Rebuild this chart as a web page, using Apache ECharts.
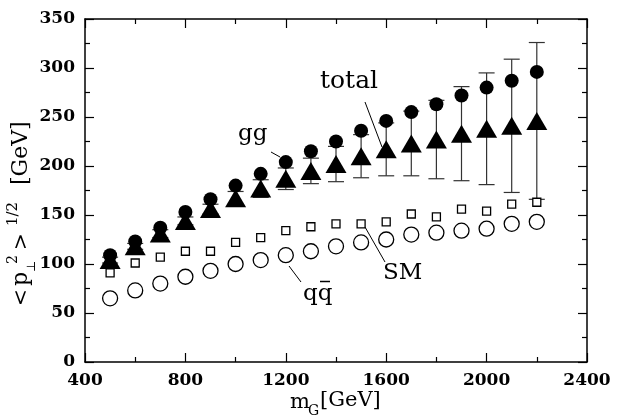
<!DOCTYPE html>
<html>
<head>
<meta charset="utf-8">
<script src="https://cdn.jsdelivr.net/npm/echarts@6/dist/echarts.min.js"></script>
<style>
  html, body { margin: 0; padding: 0; background: #fff; }
  #chart { width: 625px; height: 417px; }
</style>
</head>
<body>
<div id="chart"></div>
<script>
// masses of the graviton [GeV]
var mass = [500, 600, 700, 800, 900, 1000, 1100, 1200, 1300, 1400, 1500, 1600, 1700, 1800, 1900, 2000, 2100, 2200];
// <pT^2>^(1/2) values
var gg = [109, 123, 137, 153, 166, 180, 192, 204, 215, 225, 236, 246, 255, 263, 272, 280, 287, 296];
var total = [104, 118, 131, 144, 156, 167, 177, 187, 195, 202, 210, 217, 223, 227, 233, 238, 241, 246];
var totalErr = [3, 3, 4, 4, 5, 7, 9, 11, 13, 18, 22, 27, 33, 40, 48, 57, 68, 80];
var sm = [91, 101, 107, 113, 113, 122, 127, 134, 138, 141, 141, 143, 151, 148, 156, 154, 161, 163];
var qq = [65, 73, 80, 87, 93, 100, 104, 109, 113, 118, 122, 125, 130, 132, 134, 136, 141, 143];

var serif = '"DejaVu Serif", "Liberation Serif", serif';

function pairs(ys) {
  return mass.map(function (m, i) { return [m, ys[i]]; });
}

var errData = mass.map(function (m, i) {
  return [m, total[i] - totalErr[i], total[i] + totalErr[i]];
});

var chart = echarts.init(document.getElementById('chart'));

var axisCommon = {
  type: 'value',
  splitLine: { show: false },
  axisLine: { show: true, onZero: false, lineStyle: { color: '#000', width: 1.5 } },
  axisTick: { show: true, inside: true, length: 9, lineStyle: { color: '#000', width: 1.2 } },
  minorTick: { show: true, splitNumber: 2, length: 5, lineStyle: { color: '#000', width: 1.2 } }
};
var labelStyle = {
  color: '#000', fontFamily: serif, fontSize: 17, fontWeight: 'bold', margin: 10,
  formatter: function (v) { return String(v); }
};

chart.setOption({
  animation: false,
  backgroundColor: '#fff',
  grid: { left: 85, right: 38, top: 19, bottom: 55 },
  xAxis: [
    Object.assign({}, axisCommon, { min: 400, max: 2400, interval: 400, position: 'bottom', axisLabel: labelStyle }),
    Object.assign({}, axisCommon, { min: 400, max: 2400, interval: 400, position: 'top', axisLabel: { show: false } })
  ],
  yAxis: [
    Object.assign({}, axisCommon, { min: 0, max: 350, interval: 50, position: 'left', axisLabel: labelStyle }),
    Object.assign({}, axisCommon, { min: 0, max: 350, interval: 50, position: 'right', axisLabel: { show: false } })
  ],
  series: [
    {
      name: 'total err',
      type: 'custom',
      data: errData,
      z: 1,
      renderItem: function (params, api) {
        var x = api.value(0);
        var lo = api.coord([x, api.value(1)]);
        var hi = api.coord([x, api.value(2)]);
        var w = 8;
        var st = { stroke: '#333', lineWidth: 1.2 };
        return {
          type: 'group',
          children: [
            { type: 'line', shape: { x1: lo[0], y1: lo[1], x2: hi[0], y2: hi[1] }, style: st },
            { type: 'line', shape: { x1: lo[0] - w, y1: lo[1], x2: lo[0] + w, y2: lo[1] }, style: st },
            { type: 'line', shape: { x1: hi[0] - w, y1: hi[1], x2: hi[0] + w, y2: hi[1] }, style: st }
          ]
        };
      }
    },
    {
      name: 'SM',
      type: 'scatter',
      data: pairs(sm),
      symbol: 'rect',
      symbolSize: 8,
      z: 2,
      itemStyle: { color: '#fff', borderColor: '#000', borderWidth: 1.3, opacity: 1 }
    },
    {
      name: 'qqbar',
      type: 'scatter',
      data: pairs(qq),
      symbol: 'circle',
      symbolSize: 15,
      z: 2,
      itemStyle: { color: '#fff', borderColor: '#000', borderWidth: 1.3, opacity: 1 }
    },
    {
      name: 'gg',
      type: 'scatter',
      data: pairs(gg),
      symbol: 'circle',
      symbolSize: 14,
      z: 3,
      itemStyle: { color: '#000', opacity: 1 }
    },
    {
      name: 'total',
      type: 'scatter',
      data: pairs(total),
      symbol: 'triangle',
      symbolSize: [21, 18],
      z: 3,
      itemStyle: { color: '#000', opacity: 1 }
    }
  ],
  graphic: [
    // annotations
    { type: 'text', left: 320, top: 69, style: { text: 'total', font: '25px ' + serif, fill: '#000' } },
    { type: 'line', shape: { x1: 365, y1: 102, x2: 382, y2: 147 }, style: { stroke: '#000', lineWidth: 1 } },
    { type: 'text', left: 238, top: 123, style: { text: 'gg', font: '23px ' + serif, fill: '#000' } },
    { type: 'line', shape: { x1: 271, y1: 152, x2: 280, y2: 157 }, style: { stroke: '#000', lineWidth: 1 } },
    { type: 'text', left: 303, top: 283, style: { text: 'qq', font: '23px ' + serif, fill: '#000' } },
    { type: 'line', shape: { x1: 320, y1: 281.5, x2: 330, y2: 281.5 }, style: { stroke: '#000', lineWidth: 1.5 } },
    { type: 'line', shape: { x1: 289, y1: 266, x2: 301, y2: 282 }, style: { stroke: '#000', lineWidth: 1 } },
    { type: 'text', left: 383, top: 262, style: { text: 'SM', font: '23px ' + serif, fill: '#000' } },
    { type: 'line', shape: { x1: 365, y1: 227, x2: 385, y2: 262 }, style: { stroke: '#000', lineWidth: 1 } },
    // x axis title
    { type: 'text', left: 290, top: 392, style: { text: 'm', font: '21px ' + serif, fill: '#000' } },
    { type: 'text', left: 308, top: 404, style: { text: 'G', font: '14px ' + serif, fill: '#000' } },
    { type: 'text', left: 320, top: 390, style: { text: '[GeV]', font: '21px ' + serif, fill: '#000' } },
    // y axis title, rotated
    {
      type: 'group',
      x: 32, y: 306,
      rotation: Math.PI / 2,
      children: [
        { type: 'text', x: 0, y: 0, style: { text: '<', font: '20px ' + serif, fill: '#000', textVerticalAlign: 'bottom' } },
        { type: 'text', x: 20, y: 0, style: { text: 'p', font: '22px ' + serif, fill: '#000', textVerticalAlign: 'bottom' } },
        { type: 'text', x: 34, y: 6, style: { text: '\u22A5', font: '12px ' + serif, fill: '#000', textVerticalAlign: 'bottom' } },
        { type: 'text', x: 42, y: -12, style: { text: '2', font: '14px ' + serif, fill: '#000', textVerticalAlign: 'bottom' } },
        { type: 'text', x: 56, y: 0, style: { text: '>', font: '20px ' + serif, fill: '#000', textVerticalAlign: 'bottom' } },
        { type: 'text', x: 80, y: -11, style: { text: '1/2', font: '15px ' + serif, fill: '#000', textVerticalAlign: 'bottom' } },
        { type: 'text', x: 121, y: 0, style: { text: '[GeV]', font: '22px ' + serif, fill: '#000', textVerticalAlign: 'bottom' } }
      ]
    }
  ]
});
</script>
</body>
</html>
